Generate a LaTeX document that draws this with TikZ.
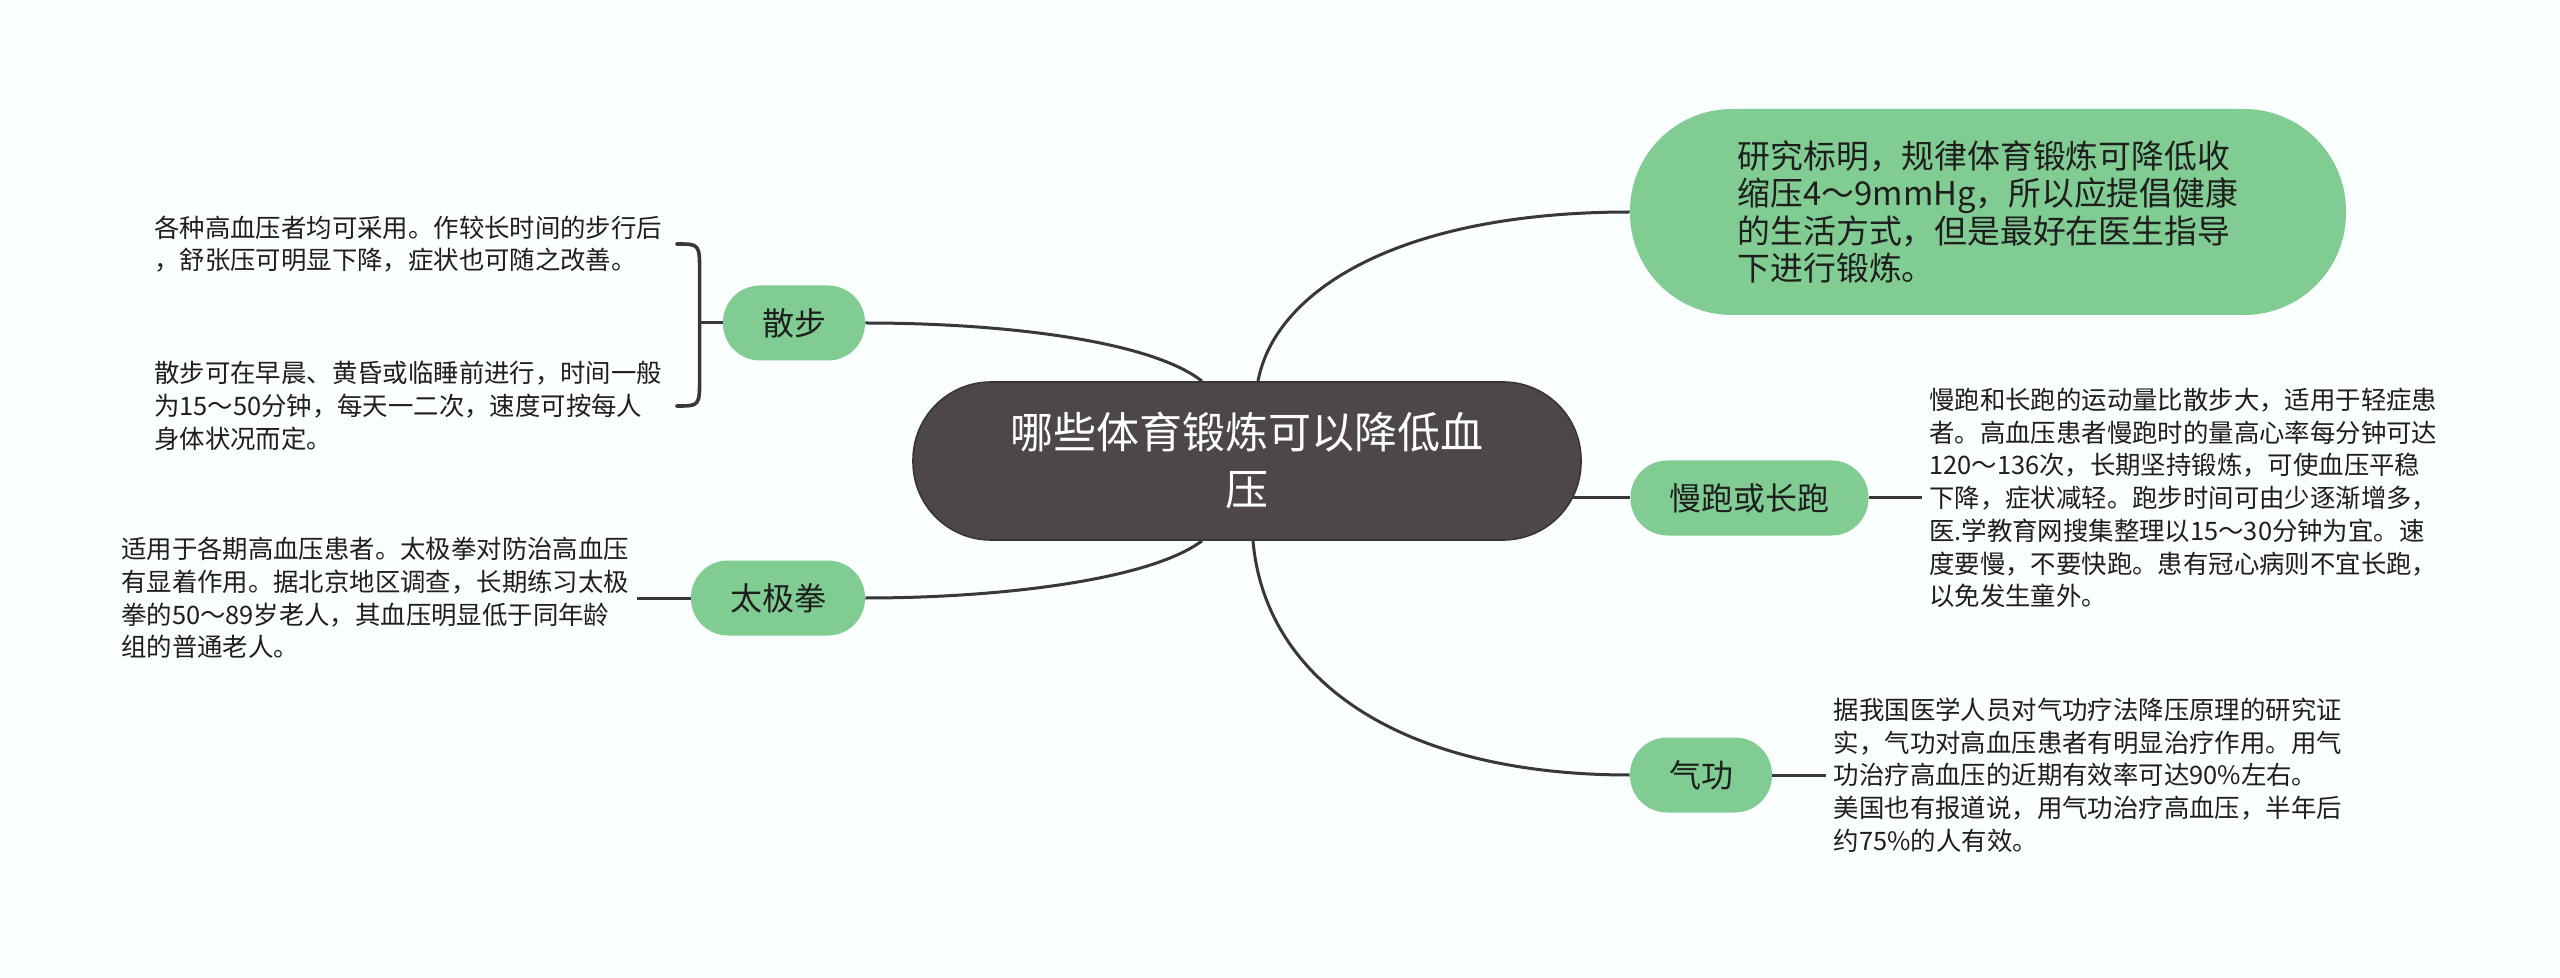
\documentclass[tikz,border=0pt]{standalone}
\usepackage{fontspec}
\setmainfont{Noto Sans CJK SC}
\usepackage{tikz}
\usetikzlibrary{calc,positioning}
\definecolor{canvaswhite}{RGB}{250,254,254}
\definecolor{rootgrey}{RGB}{77,71,71}
\definecolor{rootedge}{RGB}{58,53,53}
\definecolor{mapgreen}{RGB}{128,204,146}
\definecolor{linegrey}{RGB}{56,56,56}
\definecolor{inkblack}{RGB}{30,30,30}
\tikzset{
  rootbox/.style={fill=rootgrey,draw=rootedge,line width=0.8pt,rounded corners=39pt,
    minimum width=334pt,minimum height=79pt,align=center,text=white,
    font=\fontsize{21.5pt}{28.5pt}\selectfont},
  topicbox/.style={fill=mapgreen,rounded corners=51pt,minimum width=358pt,
    minimum height=103pt,align=left,text=inkblack,
    font=\fontsize{16.4pt}{18.7pt}\selectfont},
  branchbox/.style={fill=mapgreen,rounded corners=18.5pt,minimum height=37.5pt,
    inner xsep=19.5pt,text=inkblack,font=\fontsize{16pt}{19pt}\selectfont},
  leafnote/.style={align=left,inner xsep=3.5pt,inner ysep=2pt,text=inkblack,
    font=\fontsize{12.7pt}{16.35pt}\selectfont},
  branch/.style={draw=linegrey,line width=1.5pt},
  bracket/.style={draw=linegrey,line width=1.8pt,line cap=round}
}

\begin{document}
\begin{tikzpicture}[x=0.5pt,y=-0.5pt]
  \fill[canvaswhite] (0,0) rectangle (2560,978);
  \useasboundingbox (0,0) rectangle (2560,978);
  \node[rootbox] (root) at (1247,461) {哪些体育锻炼可以降低血\\压};
  \node[topicbox] (topic) at (1988,212)
    {研究标明，规律体育锻炼可降低收\\缩压4～9mmHg，所以应提倡健康\\的生活方式，但是最好在医生指导\\下进行锻炼。};
  \node[branchbox] (jog) at (1749.5,498) {慢跑或长跑};
  \node[branchbox] (qigong) at (1701,775) {气功};
  \node[branchbox] (walk) at (794,323) {散步};
  \node[branchbox] (taiji) at (778,598) {太极拳};
  \coordinate[left=11.5pt of walk.west] (brk);
  \node[leafnote,left=15pt of brk,yshift=39.5pt] (walka)
    {各种高血压者均可采用。作较长时间的步行后\\，舒张压可明显下降，症状也可随之改善。};
  \node[leafnote,left=15pt of brk,yshift=-41.5pt] (walkb)
    {散步可在早晨、黄昏或临睡前进行，时间一般\\为15～50分钟，每天一二次，速度可按每人\\身体状况而定。};
  \node[leafnote,left=27pt of taiji] (taijinote)
    {适用于各期高血压患者。太极拳对防治高血压\\有显着作用。据北京地区调查，长期练习太极\\拳的50～89岁老人，其血压明显低于同年龄\\组的普通老人。};
  \node[leafnote,right=26.5pt of jog] (jognote)
    {慢跑和长跑的运动量比散步大，适用于轻症患\\者。高血压患者慢跑时的量高心率每分钟可达\\120～136次，长期坚持锻炼，可使血压平稳\\下降，症状减轻。跑步时间可由少逐渐增多，\\医.学教育网搜集整理以15～30分钟为宜。速\\度要慢，不要快跑。患有冠心病则不宜长跑，\\以免发生童外。};
  \node[leafnote,right=27pt of qigong] (qigongnote)
    {据我国医学人员对气功疗法降压原理的研究证\\实，气功对高血压患者有明显治疗作用。用气\\功治疗高血压的近期有效率可达90\%左右。\\美国也有报道说，用气功治疗高血压，半年后\\约75\%的人有效。};
  % root to branches
  \draw[branch] ([xshift=5.5pt]root.north) .. controls (1275,290) and (1400,212) .. (topic.west);
  \draw[branch] ([xshift=-22.5pt]root.north) .. controls (1150,340) and (1000,323) .. (walk.east);
  \draw[branch] ([xshift=-22.5pt]root.south) .. controls (1150,580) and (1000,598) .. (taiji.east);
  \draw[branch] ([xshift=3pt]root.south) .. controls (1265,680) and (1400,775) .. (qigong.west);
  \draw[branch] ([xshift=-4.5pt,yshift=-18.5pt]root.east) -- (jog.west);
  % branches to notes
  \draw[branch] (jog.east) -- (jognote.west);
  \draw[branch] (qigong.east) -- (qigongnote.west);
  \draw[branch] (taiji.west) -- (taijinote.east);
  \draw[branch] (walk.west) -- (brk);
  \draw[bracket] ([xshift=3.5pt]walka.east) .. controls (brk |- walka.east) .. ($(brk |- walka.east)+(0,28)$)
    -- ($(brk |- walkb.east)+(0,-28)$) .. controls (brk |- walkb.east) .. ([xshift=3.5pt]walkb.east);
\end{tikzpicture}
\end{document}
